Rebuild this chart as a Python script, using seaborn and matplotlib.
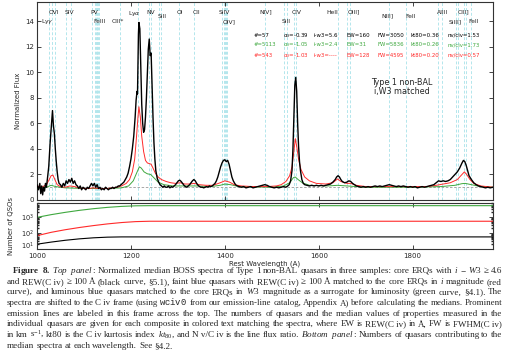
import numpy as np
import pandas as pd
import matplotlib
matplotlib.use('Agg')
import matplotlib.pyplot as plt
import seaborn as sns

# ---------------- data ----------------
# black: core ERQs
wave_black = [1000, 1003, 1006, 1008, 1010, 1012, 1014, 1016, 1018, 1020, 1022, 1025, 1028, 1031, 1033,
              1035, 1037, 1039, 1041, 1043, 1045, 1047, 1050, 1053, 1056, 1059, 1062, 1065, 1068, 1071,
              1074, 1077, 1080, 1083, 1086, 1089, 1092, 1095, 1098, 1101, 1104, 1107, 1110, 1113, 1116,
              1119, 1122, 1125, 1128, 1131, 1134, 1137, 1140, 1143, 1146, 1149, 1152, 1155, 1158, 1161,
              1164, 1167, 1170, 1173, 1176, 1179, 1182, 1185, 1188, 1191, 1194, 1197, 1200, 1203, 1206,
              1209, 1211, 1213, 1214, 1216, 1217, 1219, 1221, 1223, 1225, 1227, 1229, 1231, 1233, 1235,
              1237, 1239, 1241, 1243, 1245, 1247, 1249, 1251, 1253, 1256, 1259, 1262, 1265, 1268, 1271,
              1274, 1277, 1280, 1283, 1286, 1289, 1292, 1295, 1298, 1301, 1304, 1307, 1310, 1313, 1316,
              1319, 1322, 1325, 1328, 1331, 1334, 1337, 1340, 1343, 1346, 1349, 1352, 1355, 1358, 1361,
              1364, 1367, 1370, 1373, 1376, 1379, 1382, 1385, 1388, 1391, 1394, 1397, 1400, 1403, 1406,
              1409, 1412, 1415, 1418, 1421, 1424, 1427, 1430, 1435, 1440, 1445, 1450, 1455, 1460, 1465,
              1470, 1475, 1480, 1485, 1490, 1495, 1500, 1505, 1510, 1515, 1520, 1525, 1530, 1534, 1537,
              1540, 1543, 1545, 1547, 1549, 1551, 1553, 1555, 1557, 1559, 1561, 1564, 1567, 1570, 1575,
              1580, 1585, 1590, 1595, 1600, 1605, 1610, 1615, 1620, 1625, 1630, 1635, 1638, 1641, 1644,
              1647, 1650, 1655, 1660, 1664, 1668, 1672, 1676, 1680, 1685, 1690, 1695, 1700, 1705, 1710,
              1715, 1720, 1725, 1730, 1735, 1740, 1745, 1750, 1755, 1760, 1765, 1770, 1775, 1780, 1785,
              1790, 1795, 1800, 1805, 1810, 1815, 1820, 1825, 1830, 1835, 1840, 1845, 1850, 1855, 1860,
              1865, 1870, 1875, 1880, 1885, 1890, 1895, 1900, 1905, 1908, 1911, 1914, 1917, 1920, 1925,
              1930, 1935, 1940, 1945, 1950, 1955, 1960, 1965, 1971]
flux_black = [1.2, 0.8, 1.3, 0.5, 1.1, 0.4, 1.0, 0.7, 1.3, 1.0, 1.6, 2.6, 4.5, 6.0, 7.0,
              5.8, 5.2, 4.0, 3.0, 2.2, 1.6, 1.3, 1.2, 1.0, 1.3, 1.1, 1.5, 1.3, 1.6, 1.4,
              1.7, 1.3, 1.5, 1.2, 1.1, 0.9, 1.1, 0.8, 1.0, 0.9, 0.8, 1.0, 0.9, 1.1, 1.3,
              1.1, 1.3, 1.0, 1.2, 0.9, 1.0, 0.8, 0.9, 0.8, 1.0, 0.9, 0.8, 0.9, 0.9, 1.0,
              0.9, 1.0, 1.0, 1.1, 1.1, 1.2, 1.3, 1.4, 1.6, 1.8, 2.1, 2.6, 3.2, 4.0, 5.0,
              6.5, 7.8, 8.5, 8.3, 13.0, 13.9, 13.4, 10.5, 7.5, 6.0, 5.3, 5.5, 6.5, 8.0, 10.0,
              11.8, 12.6, 11.3, 11.5, 9.0, 6.5, 4.5, 3.2, 2.3, 1.7, 1.4, 1.2, 1.1, 1.0, 1.1,
              1.0, 1.0, 1.1, 0.95, 1.05, 1.0, 1.1, 1.2, 1.35, 1.5, 1.55, 1.45, 1.3, 1.15, 1.05,
              1.0, 1.1, 1.2, 1.35, 1.5, 1.6, 1.5, 1.3, 1.15, 1.05, 1.0, 1.0, 0.95, 1.0, 1.05,
              1.0, 1.1, 1.05, 1.1, 1.2, 1.3, 1.5, 1.8, 2.2, 2.6, 2.9, 3.1, 3.15, 3.0, 3.1,
              2.8, 2.3, 1.8, 1.5, 1.3, 1.15, 1.1, 1.05, 1.0, 1.05, 0.95, 1.0, 1.05, 0.95, 1.0,
              1.05, 1.1, 1.15, 1.2, 1.15, 1.05, 1.0, 0.95, 1.0, 0.95, 1.0, 1.05, 1.0, 1.1, 1.2,
              1.5, 2.3, 4.0, 6.5, 9.0, 9.6, 8.5, 6.0, 4.2, 3.0, 2.3, 1.6, 1.3, 1.2, 1.15,
              1.1, 1.15, 1.1, 1.15, 1.1, 1.15, 1.1, 1.15, 1.2, 1.25, 1.4, 1.6, 1.8, 1.9, 1.8,
              1.6, 1.45, 1.35, 1.4, 1.5, 1.45, 1.3, 1.2, 1.1, 1.05, 1.0, 1.05, 1.0, 1.05, 1.0,
              1.05, 1.1, 1.05, 1.1, 1.05, 1.1, 1.15, 1.2, 1.15, 1.1, 1.05, 1.1, 1.05, 1.1, 1.05,
              1.0, 1.05, 1.0, 1.05, 0.95, 1.0, 1.05, 1.0, 1.05, 1.1, 1.15, 1.2, 1.35, 1.5, 1.45,
              1.5, 1.45, 1.5, 1.6, 1.8, 2.0, 2.2, 2.5, 2.9, 3.1, 3.0, 2.7, 2.3, 1.9, 1.6,
              1.35, 1.2, 1.1, 1.05, 1.0, 0.95, 1.0, 0.95, 1.0]

# red: faint blue quasars, i matched
wave_red = [1000, 1010, 1020, 1026, 1030, 1034, 1038, 1043, 1050, 1060, 1070, 1080, 1090, 1100, 1110,
            1120, 1130, 1140, 1150, 1160, 1170, 1180, 1190, 1197, 1203, 1208, 1212, 1215, 1217, 1220,
            1223, 1227, 1231, 1235, 1239, 1243, 1247, 1252, 1258, 1265, 1275, 1285, 1295, 1305, 1315,
            1325, 1335, 1345, 1360, 1375, 1390, 1400, 1410, 1420, 1435, 1460, 1490, 1510, 1520, 1530,
            1538, 1543, 1547, 1550, 1553, 1557, 1562, 1570, 1580, 1595, 1615, 1630, 1640, 1647, 1660,
            1668, 1680, 1700, 1750, 1800, 1830, 1850, 1865, 1880, 1895, 1905, 1910, 1915, 1922, 1930,
            1945, 1971]
flux_red = [1.1, 1.0, 1.2, 1.6, 1.9, 1.95, 1.6, 1.2, 1.05, 1.0, 1.1, 1.05, 0.95, 0.9, 0.9,
            0.95, 0.9, 0.9, 0.9, 0.95, 1.0, 1.1, 1.3, 1.6, 2.2, 3.2, 5.0, 6.5, 7.3, 6.5,
            5.0, 3.8, 3.1, 2.9, 2.85, 2.8, 2.5, 2.1, 1.8, 1.6, 1.45, 1.35, 1.3, 1.35, 1.25,
            1.25, 1.3, 1.2, 1.15, 1.15, 1.35, 1.5, 1.4, 1.2, 1.1, 1.05, 1.05, 1.1, 1.2, 1.45,
            1.9, 2.6, 3.8, 4.8, 4.2, 3.2, 2.4, 1.8, 1.5, 1.3, 1.25, 1.35, 1.65, 1.45, 1.3,
            1.3, 1.15, 1.05, 1.05, 1.05, 1.05, 1.15, 1.25, 1.35, 1.6, 2.0, 2.2, 2.0, 1.6, 1.3,
            1.1, 1.0]

# green: luminous blue quasars, W3 matched
wave_green = [1000, 1020, 1030, 1040, 1060, 1100, 1150, 1180, 1195, 1205, 1212, 1218, 1222, 1228, 1235,
              1242, 1250, 1258, 1270, 1290, 1310, 1340, 1370, 1390, 1400, 1412, 1430, 1500, 1525, 1538,
              1546, 1550, 1556, 1565, 1580, 1620, 1640, 1660, 1700, 1800, 1860, 1890, 1905, 1912, 1925,
              1945, 1971]
flux_green = [0.95, 1.0, 1.15, 1.05, 0.95, 0.9, 0.9, 0.95, 1.1, 1.5, 2.1, 2.6, 2.5, 2.2, 2.05,
              2.0, 1.7, 1.4, 1.2, 1.1, 1.1, 1.1, 1.05, 1.15, 1.25, 1.2, 1.05, 1.0, 1.1, 1.35,
              1.75, 1.8, 1.6, 1.35, 1.15, 1.1, 1.15, 1.1, 1.0, 1.0, 1.05, 1.15, 1.28, 1.3, 1.2,
              1.05, 1.0]

# number of quasars contributing at each wavelength
wave_num = [1000, 1030, 1060, 1090, 1120, 1150, 1180, 1210, 1240, 1971]
num_black = [20, 27, 35, 43, 50, 55, 57, 57, 57, 57]
num_red = [68, 110, 160, 220, 290, 370, 450, 515, 543, 543]
num_green = [950, 1400, 1950, 2600, 3300, 4000, 4600, 5000, 5113, 5113]

# emission lines (dashed markers)
line_waves = [1025.7, 1031.9, 1037.6, 1062.7, 1073.0, 1118.0, 1122.5, 1124.9, 1126.7, 1128.0,
              1129.5, 1131.2, 1175.7, 1215.7, 1238.8, 1242.8, 1260.4, 1264.7, 1302.2, 1334.5,
              1393.8, 1397.2, 1399.8, 1402.8, 1404.8, 1486.5, 1526.7, 1533.4, 1548.2, 1550.8,
              1640.4, 1660.8, 1666.1, 1750.3, 1786.7, 1854.7, 1862.8, 1892.0, 1895.5, 1908.7,
              1914.0, 1925.0]
line_names = ['Ly$\\gamma$', 'OVI', 'SIV', 'PV', 'FeIII', 'CIII*', 'Ly$\\alpha$', 'NV', 'SiII', 'OI',
              'CII', 'SiIV', 'OIV]', 'NIV]', 'SiII', 'CIV', 'HeII', 'OIII]', 'NIII]', 'FeII',
              'AlIII', 'SiIII]', 'CIII]', 'FeII']
name_waves = [1022, 1036, 1070, 1121, 1132, 1173, 1207, 1243, 1266, 1305,
              1339, 1399, 1409, 1488, 1531, 1552, 1629, 1674, 1746, 1795,
              1864, 1891, 1908, 1930]
name_rows = [21.5, 12, 12, 12, 21.5, 21.5, 14, 12, 17, 12,
             12, 12, 21.5, 12, 21.5, 12, 12, 12, 16, 16,
             12, 21.5, 12, 21.5]

# median properties per composite
stat_black = ['#=57', '$\\alpha_\\lambda$=-0.39', 'i-w3=5.6', 'EW=160', 'FW=3050', 'kt80=0.36', 'nv/civ=1.53']
stat_green = ['#=5113', '$\\alpha_\\lambda$=-1.05', 'i-w3=2.4', 'EW=31', 'FW=5836', 'kt80=0.26', 'nv/civ=1.73']
stat_red = ['#=543', '$\\alpha_\\lambda$=-1.03', 'i-w3=----', 'EW=128', 'FW=4595', 'kt80=0.20', 'nv/civ=0.57']

caption = [
    r"$\mathbf{Figure}$ $\mathbf{8.}$ $\mathit{Top}$ $\mathit{panel:}$ Normalized median BOSS spectra of Type 1 non-BAL quasars in three samples: core ERQs with $i$ − $W3$ ≥ 4.6",
    "and REW(C\u00a0iv) ≥ 100 Å (black curve, §5.1), faint blue quasars with REW(C\u00a0iv) ≥ 100 Å matched to the core ERQs in $i$ magnitude (red",
    "curve), and luminous blue quasars matched to the core ERQs in $W3$ magnitude as a surrogate for luminosity (green curve, §4.1). The",
    r"spectra are shifted to the C" + "\u00a0" + r"iv frame (using $\mathtt{wciv0}$ from our emission-line catalog, Appendix A) before calculating the medians. Prominent",
    "emission lines are labeled in this frame across the top. The numbers of quasars and the median values of properties measured in the",
    "individual quasars are given for each composite in colored text matching the spectra, where EW is REW(C\u00a0iv) in Å, FW is FWHM(C\u00a0iv)",
    r"in km s$^{-1}$, kt80 is the C" + "\u00a0" + r"iv kurtosis index $kt_{80}$, and N" + "\u00a0" + "v/C\u00a0iv is the line flux ratio. $\\mathit{Bottom}$ $\\mathit{panel:}$ Numbers of quasars contributing to the",
    "median spectra at each wavelength. See §4.2.",
]

# ---------------- styling ----------------
sns.set_theme(style='ticks', rc={
    'xtick.direction': 'in', 'ytick.direction': 'in',
    'xtick.top': True, 'ytick.right': True,
    'axes.edgecolor': '#333333', 'axes.linewidth': 0.8,
    'xtick.major.size': 3, 'ytick.major.size': 3,
    'xtick.minor.size': 1.5, 'ytick.minor.size': 1.5,
    'xtick.major.width': 0.6, 'ytick.major.width': 0.6,
    'xtick.labelsize': 5, 'ytick.labelsize': 5,
    'xtick.major.pad': 2, 'ytick.major.pad': 2,
})
plt.rcParams['font.family'] = ['DejaVu Sans']
plt.rcParams['mathtext.rm'] = 'Liberation Serif'
plt.rcParams['mathtext.it'] = 'Liberation Serif:italic'
plt.rcParams['mathtext.bf'] = 'Liberation Serif:bold'
plt.rcParams['mathtext.tt'] = 'Liberation Mono'

W, H = 507, 355
fig = plt.figure(figsize=(W / 100, H / 100), dpi=100)
ax = fig.add_axes([37 / W, 1 - 200 / H, 456 / W, 198 / H])
ax2 = fig.add_axes([37 / W, 1 - 249 / H, 456 / W, 46 / H], sharex=ax)

cyan = '#b3e6ec'
for w in line_waves:
    ax.axvline(w, color=cyan, ls=(0, (3, 2)), lw=0.7, zorder=0)
ax.axhline(1.0, color='#999999', ls=(0, (3, 2)), lw=0.6, zorder=1)

spec = pd.concat([
    pd.DataFrame({'wave': wave_green, 'flux': flux_green, 'sample': 'green'}),
    pd.DataFrame({'wave': wave_red, 'flux': flux_red, 'sample': 'red'}),
    pd.DataFrame({'wave': wave_black, 'flux': flux_black, 'sample': 'black'}),
])
pal = {'black': 'black', 'red': '#ff2a2a', 'green': '#3fa83f'}
widths = {'black': 1.0, 'red': 0.7, 'green': 0.7}
for s in ['green', 'red', 'black']:
    sns.lineplot(data=spec[spec['sample'] == s], x='wave', y='flux', color=pal[s],
                 lw=widths[s], estimator=None, sort=False, ax=ax, zorder=3)

ax.set_xlim(1000, 1971)
ax.set_ylim(0, 15.5)
ax.set_yticks(range(0, 15, 2))
ax.set_xticks([1000, 1200, 1400, 1600, 1800])
ax.tick_params(labelbottom=False)
ax.set_xlabel('')
ax.set_ylabel('Normalized Flux', fontsize=5)
ax.yaxis.set_label_coords(-0.036, 0.5)

# emission line names
tr = ax.get_xaxis_transform()
for name, w, row in zip(line_names, name_waves, name_rows):
    ax.text(w, (200 - row) / 198, name, transform=tr, fontsize=4.3, ha='center', va='center',
            color='#222222')

# stats text
cols = [0.476, 0.539, 0.607, 0.678, 0.746, 0.820, 0.901]
for stats, c, yy in [(stat_black, 'black', 0.833), (stat_green, '#3fa83f', 0.783), (stat_red, '#ff2a2a', 0.732)]:
    for s, xx in zip(stats, cols):
        ax.text(xx, yy, s, transform=ax.transAxes, fontsize=3.9, color=c, ha='left', va='center')

ax.text(0.80, 0.573, 'Type 1 non-BAL\ni,W3 matched', transform=ax.transAxes, fontsize=5.8,
        ha='center', va='center', linespacing=1.0)

# bottom panel
nums = pd.concat([
    pd.DataFrame({'wave': wave_num, 'n': num_green, 'sample': 'green'}),
    pd.DataFrame({'wave': wave_num, 'n': num_red, 'sample': 'red'}),
    pd.DataFrame({'wave': wave_num, 'n': num_black, 'sample': 'black'}),
])
for s in ['green', 'red', 'black']:
    sns.lineplot(data=nums[nums['sample'] == s], x='wave', y='n', color=pal[s], lw=0.8,
                 estimator=None, sort=False, ax=ax2)
ax2.set_yscale('log')
ax2.set_ylim(10, 7500)
ax2.set_yticks([10, 100, 1000])
ax2.set_xlim(1000, 1971)
ax2.set_ylabel('Number of QSOs', fontsize=5)
ax2.yaxis.set_label_coords(-0.05, 0.5)
ax2.set_xlabel('Rest Wavelength (A)', fontsize=5, labelpad=0.5)
ax2.tick_params(axis='x', pad=3.2)
ax2.tick_params(axis='y', labelsize=4.8)

# caption, justified word by word
fig.canvas.draw()
ax2.get_yticklabels()[0].set_va('baseline')   # keep 10^1 clear of the 1000 label
r = fig.canvas.get_renderer()
x_right = 502
for i, line in enumerate(caption):
    words = line.split(' ')
    ybase = 1 - (273 + i * 10.7) / H
    x0 = 12 if i == 0 else 7
    fs = 6.6
    while True:
        texts = [fig.text(0, ybase, wd, fontsize=fs, family='Liberation Serif', va='baseline',
                          math_fontfamily='custom') for wd in words]
        wds = [t.get_window_extent(r).width for t in texts]
        gap = (x_right - x0 - sum(wds)) / (len(words) - 1)
        if i == len(caption) - 1 or gap >= 1.9 or fs < 5.0:
            break
        for t in texts:
            t.remove()
        fs -= 0.05
    if i == len(caption) - 1:
        gap = 2.0
    x = x0
    for t, wdt in zip(texts, wds):
        t.set_x(x / W)
        x += wdt + gap

fig.savefig('out.png', dpi=100)
